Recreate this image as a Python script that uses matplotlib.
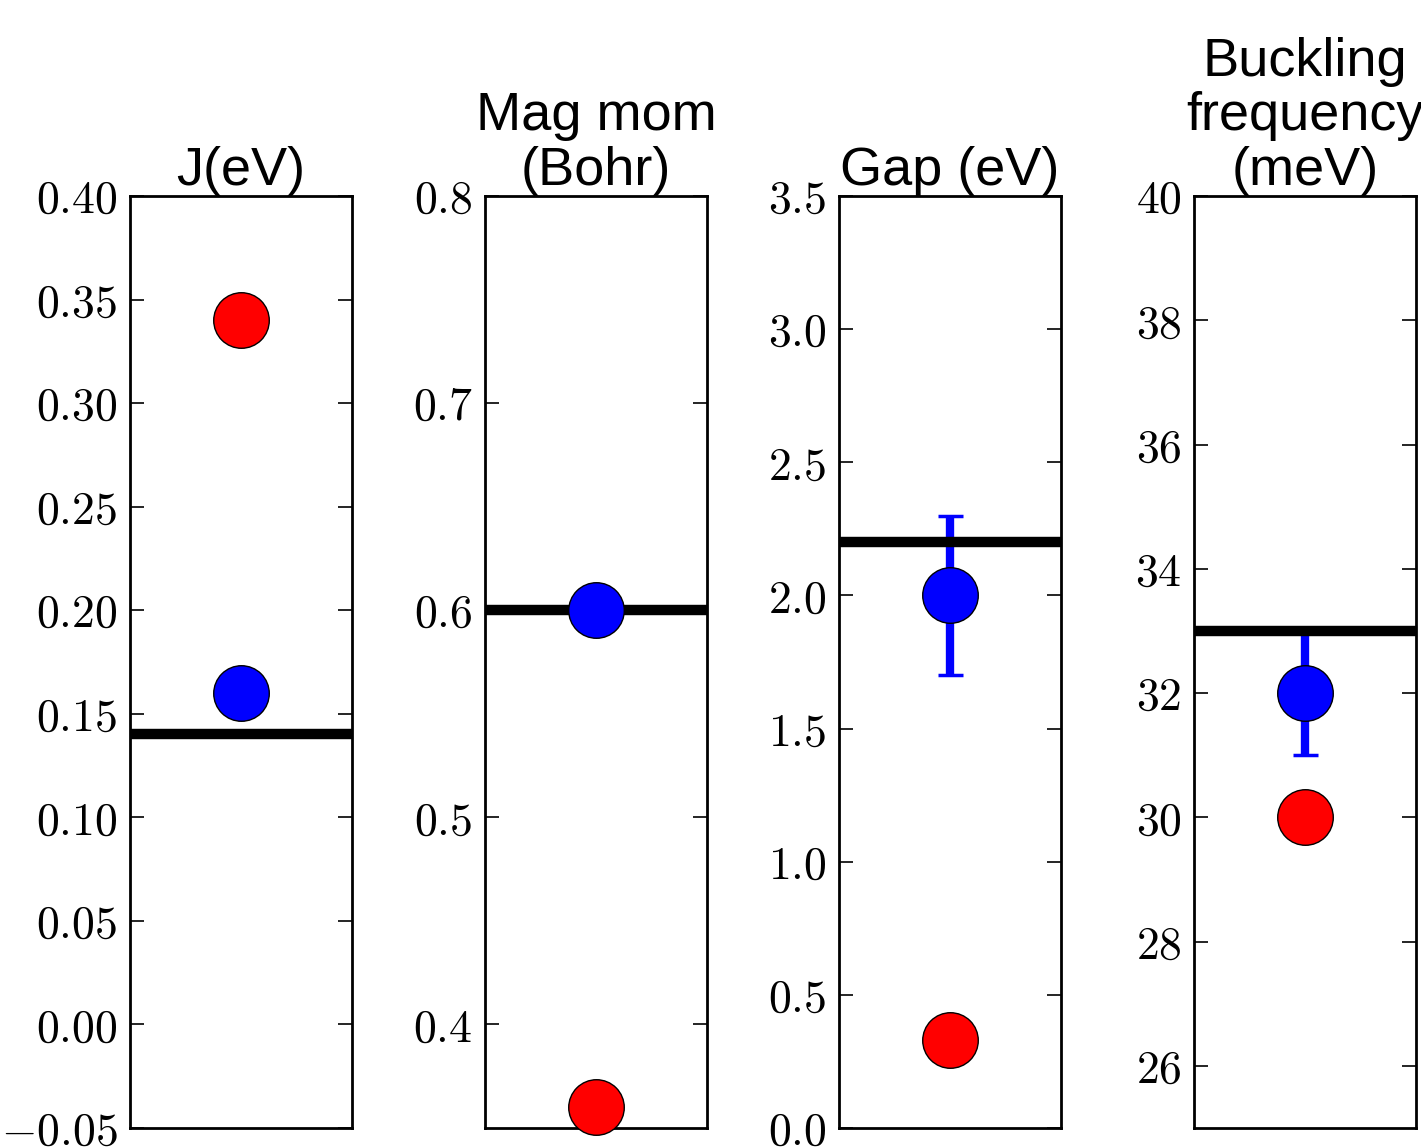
import matplotlib
matplotlib.use("Agg")
import matplotlib.pyplot as plt

plt.rcParams['mathtext.fontset'] = 'cm'
plt.rcParams['font.family'] = ['Liberation Sans', 'DejaVu Sans']

titles = ["J(eV)", "Mag mom\n(Bohr)", "Gap (eV)", "Buckling\nfrequency\n(meV)"]
red_vals = [0.34, 0.36, 0.33, 30.0]
blue_vals = [0.16, 0.60, 2.0, 32.0]
blue_err = [None, None, 0.3, 1.0]
ref_line = [0.14, 0.60, 2.2, 33.0]
ylims = [(-0.05, 0.40), (0.35, 0.80), (0.0, 3.5), (25.0, 40.0)]
tick_vals = [
    [-0.05, 0.00, 0.05, 0.10, 0.15, 0.20, 0.25, 0.30, 0.35, 0.40],
    [0.4, 0.5, 0.6, 0.7, 0.8],
    [0.0, 0.5, 1.0, 1.5, 2.0, 2.5, 3.0, 3.5],
    [26, 28, 30, 32, 34, 36, 38, 40],
]
tick_labels = [
    ["-0.05", "0.00", "0.05", "0.10", "0.15", "0.20", "0.25", "0.30", "0.35", "0.40"],
    ["0.4", "0.5", "0.6", "0.7", "0.8"],
    ["0.0", "0.5", "1.0", "1.5", "2.0", "2.5", "3.0", "3.5"],
    ["26", "28", "30", "32", "34", "36", "38", "40"],
]

W, H = 1421, 1148
fig = plt.figure(figsize=(W / 100, H / 100), dpi=100)
lefts = [130, 485, 839, 1194]
for i in range(4):
    ax = fig.add_axes([lefts[i] / W, 20 / H, 222 / W, 932 / H])
    ax.set_xlim(-1, 1)
    ax.set_ylim(*ylims[i])
    if blue_err[i] is not None:
        ax.errorbar([0], [blue_vals[i]], yerr=[blue_err[i]], fmt='none',
                    ecolor='#0000ff', elinewidth=6, capsize=9, capthick=2.5, zorder=1)
    ax.axhline(ref_line[i], color='black', lw=7.5, zorder=2)
    ax.plot([0], [red_vals[i]], 'o', ms=40, mfc='#ff0000', mec='black', mew=1, zorder=3,
            clip_on=False)
    ax.plot([0], [blue_vals[i]], 'o', ms=40, mfc='#0000ff', mec='black', mew=1, zorder=3,
            clip_on=False)
    ax.set_yticks(tick_vals[i])
    ax.set_yticklabels(["$" + s + "$" for s in tick_labels[i]])
    ax.set_xticks([])
    ax.tick_params(axis='y', direction='in', length=10, width=1.2, left=True, right=True,
                   labelsize=33, pad=9)
    for sp in ax.spines.values():
        sp.set_linewidth(2)
    ax.set_title(titles[i], fontsize=39, pad=2, linespacing=1.12)

fig.savefig("out.png", dpi=100)
